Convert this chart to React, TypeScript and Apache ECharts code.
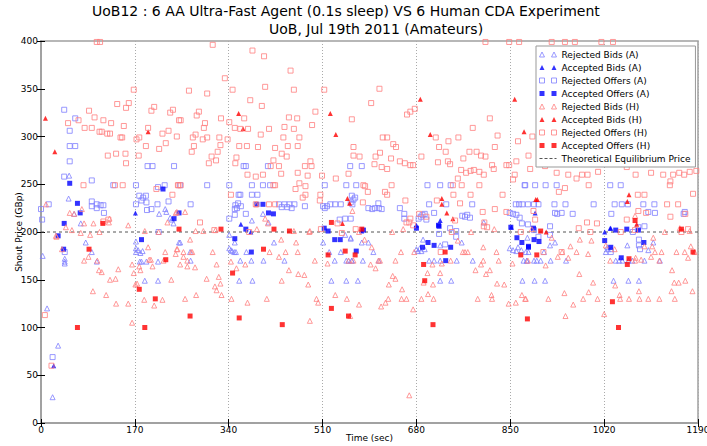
import React, { useEffect, useRef } from 'react';
import * as echarts from 'echarts';

const TITLE_LINE_1 = 'UoB12 : 6 AA Ultra-Fast Agent (0.1s sleep) VS 6 Human CDA Experiment';
const TITLE_LINE_2 = 'UoB, Jul 19th 2011 (Amateurs)';
const X_MIN = 0;
const X_MAX = 1190;
const X_STEP = 170;
const Y_MIN = 0;
const Y_MAX = 400;
const Y_STEP = 50;
const EQ_PRICE = 200;

const rejectedBidsA: number[][] = [
  [21,27],[31,81],[11,120],[3,175],[43,172],[43,169],[43,167],[81,189],[92,179],[101,169],[172,190],[179,169],[182,169],[191,169],[212,169],[188,149],[212,149],[250,189],[172,179],[176,181],[180,178],[184,180],[172,183],
  [51,259],[50,235],[60,219],[72,209],[225,224],[227,221],[214,219],[234,215],[237,213],[240,209],
  [382,212],[402,219],[412,210],[252,189],[341,197],[341,183],[344,181],[346,180],[350,179],[353,179],[361,170],[372,179],[381,170],[403,170],[422,189],[441,170],[359,149],[383,149],[511,189],[522,179],[532,170],[543,179],[553,170],[557,170],[563,170],[526,149],[553,149],[551,197],[561,193],[271,170],[270,179],[351,189],
  [802,210],[561,194],[581,189],[593,189],[602,179],[563,170],[583,170],[612,170],[574,149],[692,192],[703,170],[712,170],[723,170],[723,186],[753,170],[782,170],[723,149],[743,149],[762,189],[874,170],[880,170],[872,149],[878,179],[680,182],[683,180],[686,183],[689,180],[695,182],[849,183],[855,181],[861,180],[864,184],[870,181],
  [881,194],[883,179],[880,170],[893,170],[898,170],[905,170],[923,170],[951,170],[894,149],[913,149],[922,186],[931,189],[911,179],[1023,179],[1027,182],[1033,182],[1026,184],[1041,170],[1047,170],[1053,170],[1037,149],[1064,149],[1083,149],[1064,170],[1071,170],[1093,170],[1062,186],[1100,181],[1109,189],[1121,170]
];

const acceptedBidsA: number[][] = [
  [23,60],[171,220],[362,208],[380,200],[723,212],[852,205],[680,207],[581,201],[895,220],[1032,204],[1021,200],[1031,204]
];

const rejectedOffersA: number[][] = [
  [42,328],[62,319],[52,306],[52,290],[62,290],[52,274],[42,258],[92,254],[131,249],[172,249],[193,269],[202,269],[241,269],[212,247],[224,249],[231,232],[92,232],[101,229],[108,228],[113,228],[92,227],[101,225],[114,220],[172,229],[178,238],[185,236],[190,238],[182,233],[191,231],[192,223],[200,224],[211,229],[2,213],[14,229],[0,224],[21,69],[43,179],[213,200],
  [367,269],[371,269],[411,269],[252,249],[301,249],[341,249],[382,249],[402,249],[415,249],[514,249],[553,249],[560,269],[358,239],[361,239],[382,239],[392,239],[271,229],[352,228],[355,225],[362,227],[357,230],[351,224],[431,229],[436,226],[441,229],[446,226],[450,229],[454,225],[459,229],[478,227],[511,227],[514,225],[518,227],[524,229],[533,229],[543,229],[564,229],[371,219],[341,214],[351,218],[551,214],[541,213],[561,214],
  [581,269],[571,249],[700,249],[723,249],[742,249],[703,229],[734,229],[781,229],[860,229],[866,229],[872,229],[876,249],[563,238],[569,236],[566,234],[561,231],[593,225],[600,224],[605,225],[612,225],[617,224],[611,230],[650,225],[658,219],[658,214],[684,214],[688,216],[691,218],[695,219],[698,213],[712,220],[763,217],[768,216],[772,218],[777,215],[849,220],[855,219],[861,218],[867,215],[871,209],[741,204],[752,201],[752,195],[721,198],[732,187],
  [877,249],[895,249],[914,249],[934,249],[1031,249],[1050,249],[882,229],[893,229],[901,229],[930,229],[950,229],[1001,229],[1039,229],[1052,229],[1063,229],[1091,229],[1111,229],[931,220],[935,219],[943,220],[963,219],[1033,219],[1100,221],[1112,220],[1164,219],[1166,221],[882,208],[893,202],[922,206],[901,195],[922,197],[1082,205],[1093,206],[1072,200],[1083,192],[1085,182],[1083,186],[1032,179]
];

const acceptedOffersA: number[][] = [
  [31,196],[41,182],[182,192],[52,251],[66,230],[71,220],[42,209],[221,245],[241,214],[250,220],[391,229],[402,229],[412,220],[421,219],[371,203],[513,204],[520,201],[351,193],[381,179],[532,192],[542,192],
  [680,204],[720,207],[571,180],[584,202],[701,189],[712,186],[691,184],[742,184],[721,206],[733,170],[851,205],[862,194],[871,189],[883,184],
  [892,204],[1041,202],[1061,203],[1082,202],[893,192],[902,190],[883,185],[1021,191],[1032,184],[1051,173],[1092,189]
];

const rejectedBidsH: number[][] = [
  [9,229],[52,220],[60,219],[74,224],[78,209],[95,209],[89,197],[72,199],[56,202],[45,205],[27,196],[106,200],[123,210],[158,207],[188,201],[213,200],[229,210],[244,220],[124,214],[28,195],[38,182],[78,170],[86,174],[102,170],[105,160],[110,158],[125,150],[135,151],[140,161],[118,134],[94,138],[136,125],[158,125],[165,166],[168,157],[171,145],[174,146],[178,164],[180,160],[194,184],[196,171],[199,171],[202,164],[222,170],[225,179],[236,150],[244,177],[247,182],[220,129],[205,123],[187,129],[165,105],
  [246,221],[261,221],[390,229],[406,214],[411,209],[391,203],[280,201],[294,201],[316,202],[458,201],[487,201],[564,222],[270,192],[246,182],[258,179],[272,179],[274,179],[258,174],[265,170],[252,166],[265,164],[279,163],[311,179],[318,166],[322,153],[300,151],[325,146],[315,143],[318,139],[327,134],[281,134],[261,130],[344,169],[354,162],[370,166],[345,130],[374,126],[409,130],[435,192],[431,174],[414,179],[443,179],[465,179],[462,189],[449,160],[466,156],[477,155],[484,145],[436,149],[496,170],[499,130],[502,126],[487,107],[486,200],[519,167],[533,134],[554,130],[566,170],[557,170],
  [576,200],[636,200],[656,203],[586,192],[599,184],[652,179],[614,170],[611,170],[642,170],[597,166],[606,162],[637,154],[642,151],[630,145],[654,140],[629,130],[653,130],[662,130],[624,126],[616,122],[576,124],[674,119],[560,112],[667,29],[676,179],[689,130],[701,135],[711,130],[700,157],[723,157],[710,145],[693,147],[709,166],[726,167],[742,170],[755,191],[768,179],[764,179],[773,179],[779,200],[801,184],[825,179],[801,170],[797,166],[787,160],[813,160],[806,156],[829,170],[826,146],[839,145],[816,134],[817,130],[791,130],[847,125],[860,126],[871,134],[878,130],[854,167],[821,203],
  [1130,200],[1175,201],[1076,217],[889,203],[925,194],[976,192],[997,191],[959,185],[970,179],[944,179],[991,177],[955,173],[936,174],[882,170],[914,165],[975,156],[1000,147],[948,136],[992,137],[964,124],[950,112],[877,130],[919,130],[982,130],[1008,130],[1020,114],[1023,186],[1039,182],[1077,173],[1031,170],[1040,144],[1048,134],[1049,130],[1065,130],[1083,138],[1084,130],[1100,130],[1120,130],[1148,130],[1093,185],[1109,194],[1107,185],[1112,179],[1124,179],[1105,174],[1087,171],[1120,170],[1151,179],[1166,179],[1184,179],[1177,185],[1172,173],[1143,160],[1147,147],[1155,147],[1167,149],[1142,138],[1180,138],[1076,170],[1157,204]
];

const acceptedBidsH: number[][] = [
  [8,319],[25,284],[194,305],[358,324],[366,308],[524,324],[534,302],[555,235],[559,230],[546,209],[687,339],[705,302],[858,339],[875,305],[726,235],[726,229],[735,220],[746,214],[899,234],[896,234],[1065,239],[1062,232],[1079,208],[915,200]
];

const rejectedOffersH: number[][] = [
  [101,399],[107,399],[168,349],[138,334],[159,335],[154,330],[87,327],[68,317],[97,320],[113,317],[127,314],[49,314],[79,309],[92,309],[150,311],[106,305],[110,305],[120,303],[125,303],[144,299],[147,299],[173,297],[178,299],[153,282],[136,282],[121,280],[177,280],[190,290],[200,327],[205,331],[194,309],[214,287],[220,303],[226,293],[231,306],[234,325],[239,328],[246,300],[250,317],[77,249],[134,249],[148,249],[248,249],[238,239],[209,245],[113,211],[122,213],[154,272],[19,60],[7,113],
  [311,396],[383,390],[404,384],[452,369],[333,361],[268,348],[301,345],[347,349],[406,352],[458,349],[513,349],[379,338],[400,332],[286,326],[282,322],[253,317],[326,319],[341,315],[368,319],[449,320],[464,319],[497,326],[491,312],[297,314],[295,309],[351,309],[361,308],[375,308],[413,308],[441,310],[458,308],[280,302],[275,299],[301,299],[323,299],[398,302],[439,299],[468,299],[338,297],[293,297],[325,291],[277,290],[359,290],[373,290],[393,289],[424,288],[447,290],[465,290],[273,284],[320,284],[309,279],[354,278],[436,282],[445,279],[317,275],[304,272],[352,272],[421,275],[488,274],[478,269],[490,269],[416,269],[431,269],[374,260],[389,258],[402,260],[435,261],[465,262],[483,259],[509,259],[468,251],[479,248],[249,249],[253,249],[421,249],[424,249],[461,245],[474,236],[479,239],[506,239],[505,233],[344,239],[389,229],[413,229],[424,229],[288,210],[314,202],[534,256],[557,261],[566,289],[566,280],[563,318],[537,209],[377,200],[545,199],[507,203],
  [805,399],[848,399],[866,399],[613,350],[598,335],[677,329],[669,326],[663,323],[813,319],[782,309],[619,299],[627,299],[715,299],[756,299],[827,301],[738,295],[638,292],[643,289],[721,289],[822,289],[864,295],[883,280],[614,283],[606,279],[577,279],[689,279],[733,284],[765,277],[776,284],[789,284],[797,280],[805,279],[634,277],[650,274],[604,271],[617,268],[627,266],[659,272],[669,270],[674,270],[719,273],[737,274],[741,271],[761,265],[770,262],[778,264],[784,265],[794,263],[802,260],[817,270],[820,266],[843,270],[848,270],[861,274],[858,260],[855,255],[755,256],[584,249],[587,248],[635,249],[746,249],[762,249],[794,249],[623,242],[627,239],[592,242],[747,239],[778,239],[836,239],[583,231],[660,233],[717,233],[759,230],[800,221],[822,224],[843,221],[669,214],[662,210],[667,210],[685,219],[698,216],[750,212],[803,210],[808,205],[570,203],[674,207],[724,179],[744,200],[802,206],[869,200],
  [925,399],[949,399],[967,399],[1015,399],[1036,399],[890,300],[886,266],[913,269],[934,262],[955,260],[970,256],[980,260],[990,260],[992,249],[938,242],[949,246],[1009,263],[1061,268],[1077,260],[1105,262],[1127,260],[1140,253],[1145,260],[1156,262],[1165,260],[1139,249],[1175,263],[1187,264],[1181,240],[1093,239],[1081,239],[1134,229],[1154,229],[895,213],[989,210],[1007,209],[1082,222],[1096,220],[1061,213],[1140,216],[1167,219],[892,222],[1160,200],[974,204],[995,200],[1172,203],[1050,200],[910,179],[943,179],[1076,202]
];

const acceptedOffersH: number[][] = [
  [112,209],[250,203],[87,182],[66,100],[188,100],[178,140],[207,130],[226,171],[326,203],[422,203],[450,201],[526,210],[403,182],[347,157],[270,112],[359,110],[437,103],[520,176],[551,180],[526,120],[557,112],
  [581,203],[569,176],[732,179],[693,166],[695,149],[710,103],[869,176],[881,109],
  [1076,212],[905,201],[1160,203],[898,176],[1065,172],[1062,166],[1035,127],[1046,100],[1181,179]
];

const SERIES_NAMES = [
  'Rejected Bids (A)', 'Accepted Bids (A)', 'Rejected Offers (A)', 'Accepted Offers (A)',
  'Rejected Bids (H)', 'Accepted Bids (H)', 'Rejected Offers (H)', 'Accepted Offers (H)',
  'Theoretical Equilibrium Price'
];

const FONT = '"DejaVu Sans", sans-serif';
const LIGHT_BLUE = '#7f7fff';
const BLUE = '#0000ff';
const LIGHT_RED = '#ff7f7f';
const RED = '#ff0000';
const FRAME = '#a0a0a0';

const TRI_ICON = 'path://M0,5L2.5,0L5,5Z M12,5L14.5,0L17,5Z';
const SQ_ICON = 'path://M0,0L5,0L5,5L0,5Z M12,0L17,0L17,5L12,5Z';
const DASH_ICON = 'path://M0,0h3v1h-3Z M5,0h3v1h-3Z M10,0h3v1h-3Z M15,0h2v1h-2Z';

function scatter(name: string, data: number[][], symbol: string, hollow: boolean, color: string, size: number) {
  return {
    type: 'scatter',
    name,
    data,
    symbol,
    symbolSize: size,
    silent: true,
    itemStyle: hollow
      ? { color: 'rgba(255,255,255,0)', borderColor: color, borderWidth: 1 }
      : { color, borderWidth: 0 },
    emphasis: { disabled: true },
  };
}

const labelFmt = (v: number) => String(v);

export default function App() {
  const ref = useRef<HTMLDivElement>(null);
  useEffect(() => {
    if (!ref.current) return;
    const chart = echarts.init(ref.current, null, { renderer: 'svg' });
    const legendItem = (name: string, icon: string, hollow: boolean, color: string) => ({
      name,
      icon,
      itemStyle: hollow
        ? { color: 'rgba(255,255,255,0)', borderColor: color, borderWidth: 1 }
        : { color, borderWidth: 0 },
    });
    chart.setOption({
      animation: false,
      graphic: [
        { type: 'text', x: 92, y: 4, silent: true,
          style: { text: TITLE_LINE_1, fontSize: 14, fontFamily: FONT, fill: '#000' } },
        { type: 'text', x: 269, y: 22, silent: true,
          style: { text: TITLE_LINE_2, fontSize: 14, fontFamily: FONT, fill: '#000' } },
      ],
      grid: {
        left: 41, right: 9, top: 41, bottom: 23,
        containLabel: false, outerBoundsMode: 'none',
        show: true, borderColor: FRAME, borderWidth: 1.5, backgroundColor: '#fff',
      },
      legend: {
        orient: 'vertical',
        left: 536,
        top: 46,
        padding: [2, 5, 2, 3],
        itemWidth: 17,
        itemHeight: 5,
        itemGap: 0,
        backgroundColor: '#fff',
        borderColor: '#999',
        borderWidth: 1,
        selectedMode: false,
        textStyle: { fontSize: 9, fontFamily: FONT, color: '#000', lineHeight: 13 },
        data: [
          legendItem(SERIES_NAMES[0], TRI_ICON, true, LIGHT_BLUE),
          legendItem(SERIES_NAMES[1], TRI_ICON, false, BLUE),
          legendItem(SERIES_NAMES[2], SQ_ICON, true, LIGHT_BLUE),
          legendItem(SERIES_NAMES[3], SQ_ICON, false, BLUE),
          legendItem(SERIES_NAMES[4], TRI_ICON, true, LIGHT_RED),
          legendItem(SERIES_NAMES[5], TRI_ICON, false, RED),
          legendItem(SERIES_NAMES[6], SQ_ICON, true, LIGHT_RED),
          legendItem(SERIES_NAMES[7], SQ_ICON, false, RED),
          legendItem(SERIES_NAMES[8], DASH_ICON, false, '#555'),
        ],
      },
      xAxis: [
        {
          type: 'value', min: X_MIN, max: X_MAX, interval: X_STEP, position: 'bottom',
          axisLine: { show: true, lineStyle: { color: FRAME, width: 1.5 } },
          axisTick: { show: true, inside: true, length: 4, lineStyle: { color: '#000' } },
          axisLabel: { fontSize: 9, fontFamily: FONT, color: '#000', margin: 2, formatter: labelFmt },
          splitLine: { show: true, lineStyle: { color: '#aaa', type: [1, 2], width: 1 } },
          name: 'Time (sec)', nameLocation: 'middle', nameGap: 10, nameMoveOverlap: false,
          nameTextStyle: { fontSize: 9, fontFamily: FONT, color: '#000' },
        },
        {
          type: 'value', min: X_MIN, max: X_MAX, interval: X_STEP, position: 'top',
          axisLine: { show: true, lineStyle: { color: FRAME, width: 1.5 } },
          axisTick: { show: true, inside: true, length: 4, lineStyle: { color: '#000' } },
          axisLabel: { show: false }, splitLine: { show: false },
        },
      ],
      yAxis: [
        {
          type: 'value', min: Y_MIN, max: Y_MAX, interval: Y_STEP, position: 'left',
          axisLine: { show: true, lineStyle: { color: FRAME, width: 1.5 } },
          axisTick: { show: true, inside: true, length: 4, lineStyle: { color: '#000' } },
          axisLabel: { fontSize: 9, fontFamily: FONT, color: '#000', margin: 3, formatter: labelFmt },
          splitLine: { show: false },
          name: 'Shout Price (GBp)', nameLocation: 'middle', nameGap: 18, nameMoveOverlap: false,
          nameTextStyle: { fontSize: 9, fontFamily: FONT, color: '#000' },
        },
        {
          type: 'value', min: Y_MIN, max: Y_MAX, interval: Y_STEP, position: 'right',
          axisLine: { show: true, lineStyle: { color: FRAME, width: 1.5 } },
          axisTick: { show: true, inside: true, length: 4, lineStyle: { color: '#000' } },
          axisLabel: { show: false }, splitLine: { show: false },
        },
      ],
      series: [
        scatter(SERIES_NAMES[0], rejectedBidsA, 'triangle', true, LIGHT_BLUE, 5),
        scatter(SERIES_NAMES[1], acceptedBidsA, 'triangle', false, BLUE, 5),
        scatter(SERIES_NAMES[2], rejectedOffersA, 'rect', true, LIGHT_BLUE, 5),
        scatter(SERIES_NAMES[3], acceptedOffersA, 'rect', false, BLUE, 5),
        scatter(SERIES_NAMES[4], rejectedBidsH, 'triangle', true, LIGHT_RED, 5),
        scatter(SERIES_NAMES[5], acceptedBidsH, 'triangle', false, RED, 5),
        scatter(SERIES_NAMES[6], rejectedOffersH, 'rect', true, LIGHT_RED, 5),
        scatter(SERIES_NAMES[7], acceptedOffersH, 'rect', false, RED, 5),
        {
          type: 'line', name: SERIES_NAMES[8], silent: true, symbol: 'none',
          data: [[X_MIN, EQ_PRICE], [X_MAX, EQ_PRICE]],
          itemStyle: { color: '#555' },
          lineStyle: { color: '#555', width: 1, type: [3, 3] },
          emphasis: { disabled: true },
          z: 1,
        },
      ],
    });
    return () => chart.dispose();
  }, []);
  return <div ref={ref} style={{ position: 'absolute', left: 0, top: 0, width: 707, height: 446 }} />;
}
